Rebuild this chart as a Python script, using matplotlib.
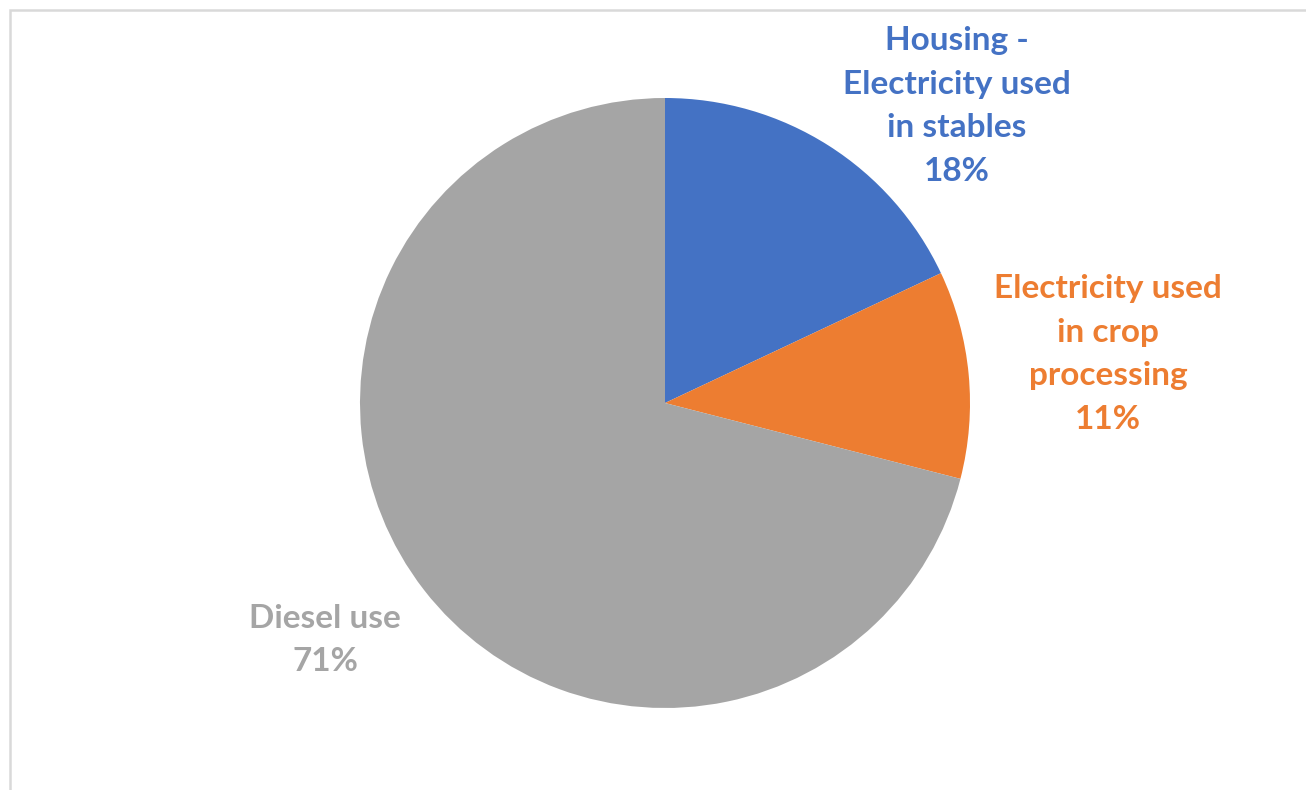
import matplotlib.pyplot as plt
from matplotlib.patches import Rectangle

categories = ['Housing -\nElectricity used\nin stables', 'Electricity used\nin crop\nprocessing', 'Diesel use']
shares = [18, 11, 71]
colors = ['#4472C4', '#ED7D31', '#A5A5A5']

W, H = 1306, 790
fig = plt.figure(figsize=(W / 100, H / 100), dpi=100)
ax = fig.add_axes([0, 0, 1, 1])

# pie centre / radius in pixel space
cx, cy, r = 665, H - 403, 305
ax.pie(shares, colors=colors, startangle=90, counterclock=False,
       center=(cx, cy), radius=r, frame=True,
       wedgeprops=dict(linewidth=0))
ax.set_xlim(0, W)
ax.set_ylim(0, H)
ax.set_aspect('equal')
ax.axis('off')

label_pos = [(957, H - 106), (1108, H - 354), (325, H - 640)]
for name, val, col, (x, y) in zip(categories, shares, colors, label_pos):
    ax.text(x, y, f'{name}\n{val}%', color=col, ha='center', va='center',
            fontsize=24, fontweight='bold', family='Lato', linespacing=1.6)

fig.patches.append(Rectangle((10 / W, -0.05), 1.1, (H - 10) / H + 0.05,
                             transform=fig.transFigure, fill=False,
                             edgecolor='#d9d9d9', linewidth=1.8))

fig.savefig('out.png', dpi=100, facecolor='white')
